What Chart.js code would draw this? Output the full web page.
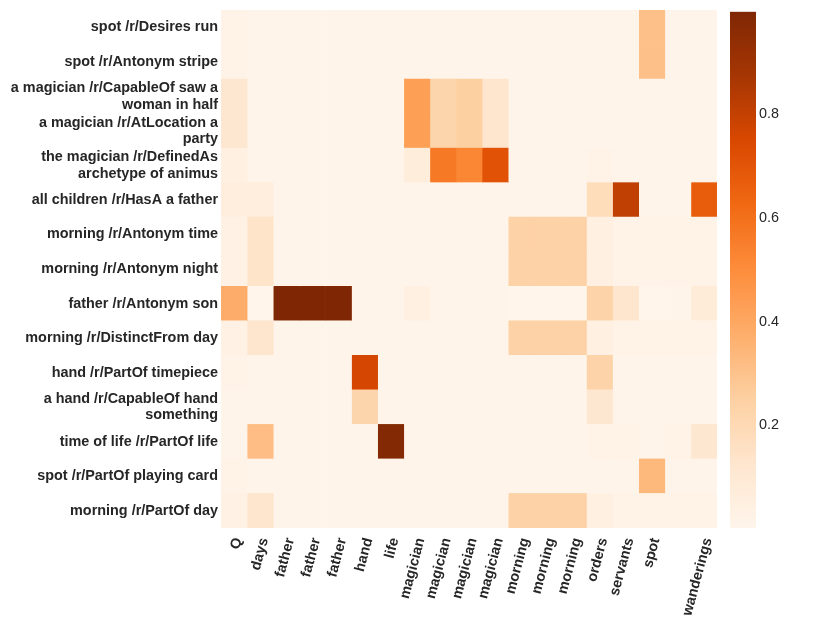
<!DOCTYPE html>
<html>
<head>
<meta charset="utf-8">
<script src="https://cdn.jsdelivr.net/npm/chart.js"></script>
<style>
  body { margin: 0; background: #fff; }
  #heat { position: absolute; left: 0; top: 0; }
  #bar { position: absolute; left: 720px; top: 0; }
</style>
</head>
<body>
<canvas id="heat" width="830" height="623"></canvas>
<canvas id="bar" width="110" height="623"></canvas>
<script>
// Row and column labels
const rowLabels = [
  'spot /r/Desires run',
  'spot /r/Antonym stripe',
  ['a magician /r/CapableOf saw a', 'woman in half'],
  ['a magician /r/AtLocation a', 'party'],
  ['the magician /r/DefinedAs', 'archetype of animus'],
  'all children /r/HasA a father',
  'morning /r/Antonym time',
  'morning /r/Antonym night',
  'father /r/Antonym son',
  'morning /r/DistinctFrom day',
  'hand /r/PartOf timepiece',
  ['a hand /r/CapableOf hand', 'something'],
  'time of life /r/PartOf life',
  'spot /r/PartOf playing card',
  'morning /r/PartOf day'
];
const colLabels = ['Q', 'days', 'father', 'father', 'father', 'hand', 'life',
  'magician', 'magician', 'magician', 'magician', 'morning', 'morning', 'morning',
  'orders', 'servants', 'spot', '', 'wanderings'];

// One array per row, one value per column
const spotDesiresRun      = [0.02, 0.01, 0.01, 0.01, 0.01, 0.01, 0.01, 0.01, 0.01, 0.01, 0.01, 0.01, 0.01, 0.01, 0.01, 0.01, 0.31, 0.01, 0.01];
const spotAntonymStripe   = [0.02, 0.01, 0.01, 0.01, 0.01, 0.01, 0.01, 0.01, 0.01, 0.01, 0.01, 0.01, 0.01, 0.01, 0.01, 0.01, 0.31, 0.01, 0.01];
const magicianCapableOf   = [0.12, 0.01, 0.01, 0.01, 0.01, 0.01, 0.01, 0.43, 0.22, 0.25, 0.13, 0.01, 0.01, 0.01, 0.01, 0.01, 0.01, 0.01, 0.01];
const magicianAtLocation  = [0.12, 0.01, 0.01, 0.01, 0.01, 0.01, 0.01, 0.43, 0.22, 0.25, 0.13, 0.01, 0.01, 0.01, 0.01, 0.01, 0.01, 0.01, 0.01];
const magicianDefinedAs   = [0.04, 0.01, 0.01, 0.01, 0.01, 0.01, 0.01, 0.07, 0.57, 0.52, 0.71, 0.01, 0.01, 0.01, 0.02, 0.01, 0.01, 0.01, 0.01];
const childrenHasA        = [0.06, 0.06, 0.01, 0.01, 0.01, 0.01, 0.01, 0.01, 0.01, 0.01, 0.01, 0.01, 0.01, 0.01, 0.18, 0.81, 0.01, 0.01, 0.67];
const morningAntonymTime  = [0.03, 0.14, 0.01, 0.01, 0.01, 0.01, 0.01, 0.01, 0.01, 0.01, 0.01, 0.24, 0.24, 0.24, 0.04, 0.02, 0.02, 0.02, 0.02];
const morningAntonymNight = [0.03, 0.14, 0.01, 0.01, 0.01, 0.01, 0.01, 0.01, 0.01, 0.01, 0.01, 0.24, 0.24, 0.24, 0.04, 0.02, 0.02, 0.02, 0.02];
const fatherAntonymSon    = [0.38, 0.002, 0.998, 0.998, 0.998, 0.01, 0.01, 0.04, 0.01, 0.01, 0.01, 0.005, 0.005, 0.005, 0.23, 0.13, 0.005, 0.01, 0.08];
const morningDistinctDay  = [0.03, 0.13, 0.01, 0.01, 0.01, 0.01, 0.01, 0.01, 0.01, 0.01, 0.01, 0.24, 0.24, 0.24, 0.04, 0.02, 0.02, 0.02, 0.02];
const handPartOf          = [0.02, 0.01, 0.01, 0.01, 0.01, 0.76, 0.01, 0.01, 0.01, 0.01, 0.01, 0.01, 0.01, 0.01, 0.23, 0.01, 0.01, 0.01, 0.01];
const handCapableOf       = [0.01, 0.01, 0.01, 0.01, 0.01, 0.22, 0.01, 0.01, 0.01, 0.01, 0.01, 0.01, 0.01, 0.01, 0.12, 0.01, 0.01, 0.01, 0.01];
const timeOfLifePartOf    = [0.01, 0.32, 0.01, 0.01, 0.01, 0.01, 0.985, 0.01, 0.01, 0.01, 0.01, 0.01, 0.01, 0.01, 0.02, 0.02, 0.01, 0.02, 0.12];
const spotPartOfCard      = [0.02, 0.01, 0.01, 0.01, 0.01, 0.01, 0.01, 0.01, 0.01, 0.01, 0.01, 0.01, 0.01, 0.01, 0.01, 0.01, 0.34, 0.01, 0.01];
const morningPartOfDay    = [0.03, 0.13, 0.01, 0.01, 0.01, 0.01, 0.01, 0.01, 0.01, 0.01, 0.01, 0.24, 0.24, 0.24, 0.04, 0.02, 0.02, 0.02, 0.02];

const rows = [spotDesiresRun, spotAntonymStripe, magicianCapableOf, magicianAtLocation,
  magicianDefinedAs, childrenHasA, morningAntonymTime, morningAntonymNight, fatherAntonymSon,
  morningDistinctDay, handPartOf, handCapableOf, timeOfLifePartOf, spotPartOfCard, morningPartOfDay];

// Colorbar ticks
const barTicks = [0.2, 0.4, 0.6, 0.8];

// matplotlib "Oranges"
const orangesStops = ['#fff5eb', '#fee6ce', '#fdd0a2', '#fdae6b', '#fd8d3c', '#f16913', '#d94801', '#a63603', '#7f2704'];

const textColor = '#262626';
const fontFamily = "'Liberation Sans', Arial, sans-serif";

const hexRgb = (h) => [1, 3, 5].map(i => parseInt(h.substr(i, 2), 16));

// Interpolate the colormap at t in [0, 1]
const oranges = (t) => {
  t = Math.min(1, Math.max(0, t));
  const pos = t * (orangesStops.length - 1);
  const i = Math.min(Math.floor(pos), orangesStops.length - 2);
  const f = pos - i;
  const a = hexRgb(orangesStops[i]);
  const b = hexRgb(orangesStops[i + 1]);
  const c = a.map((v, k) => Math.round(v + (b[k] - v) * f));
  return `rgb(${c[0]}, ${c[1]}, ${c[2]})`;
};

const allValues = rows.flat();
const vmin = Math.min(...allValues);
const vmax = Math.max(...allValues);

// Heatmap: one stacked bar segment per cell
new Chart(document.getElementById('heat'), {
  type: 'bar',
  data: {
    labels: rowLabels,
    datasets: colLabels.map((name, c) => ({
      label: name,
      data: rows.map(() => 1),
      backgroundColor: rows.map(r => oranges((r[c] - vmin) / (vmax - vmin))),
      borderWidth: 0,
      barPercentage: 1,
      categoryPercentage: 1
    }))
  },
  options: {
    indexAxis: 'y',
    responsive: false,
    animation: false,
    layout: { padding: { top: 10, right: 113, left: 0, bottom: 0 } },
    plugins: {
      legend: { display: false },
      tooltip: { enabled: false }
    },
    scales: {
      x: { stacked: true, min: 0, max: colLabels.length, display: false },
      cols: {
        type: 'category',
        axis: 'x',
        position: 'bottom',
        labels: colLabels,
        offset: true,
        grid: { display: false, drawTicks: false },
        border: { display: false },
        ticks: {
          autoSkip: false,
          minRotation: 75,
          maxRotation: 75,
          padding: 8,
          labelOffset: 4,
          color: textColor,
          font: { family: fontFamily, size: 14.4, weight: 'bold' }
        },
        afterFit: (s) => { s.height = 95; s.paddingLeft = 0; s.paddingRight = 0; }
      },
      y: {
        stacked: true,
        grid: { display: false, drawTicks: false },
        border: { display: false },
        ticks: {
          autoSkip: false,
          padding: 3,
          color: textColor,
          font: { family: fontFamily, size: 14.4, weight: 'bold', lineHeight: 1.15 }
        },
        afterFit: (s) => { s.width = 221; s.paddingTop = 0; s.paddingBottom = 0; }
      }
    }
  }
});

// Colorbar: one floating bar from vmin to vmax filled with the colormap
new Chart(document.getElementById('bar'), {
  type: 'bar',
  data: {
    labels: [''],
    datasets: [{
      data: [[vmin, vmax]],
      backgroundColor: (ctx) => {
        const area = ctx.chart.chartArea;
        if (!area) return orangesStops[0];
        const g = ctx.chart.ctx.createLinearGradient(0, area.bottom, 0, area.top);
        orangesStops.forEach((c, i) => g.addColorStop(i / (orangesStops.length - 1), c));
        return g;
      },
      borderWidth: 0,
      barPercentage: 1,
      categoryPercentage: 1
    }]
  },
  options: {
    responsive: false,
    animation: false,
    layout: { padding: { left: 10, top: 10, bottom: 95, right: 0 } },
    plugins: {
      legend: { display: false },
      tooltip: { enabled: false }
    },
    scales: {
      x: { display: false },
      y: {
        position: 'right',
        min: vmin,
        max: vmax,
        grid: { display: false, drawTicks: false },
        border: { display: false },
        afterBuildTicks: (s) => { s.ticks = barTicks.map(v => ({ value: v })); },
        ticks: {
          padding: 3,
          color: textColor,
          font: { family: fontFamily, size: 14.4 },
          callback: (v) => v.toFixed(1)
        },
        afterFit: (s) => { s.width = 74; }
      }
    }
  }
});
</script>
</body>
</html>
